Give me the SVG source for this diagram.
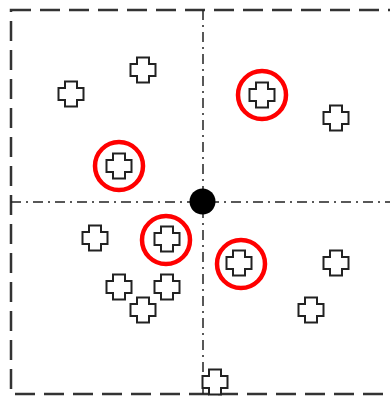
<svg xmlns="http://www.w3.org/2000/svg" xmlns:xlink="http://www.w3.org/1999/xlink" width="390" height="396" viewBox="0 0 390 396">
<style>
.frame{fill:none;stroke:#333;stroke-width:2.5;stroke-dasharray:20,9}
.axis{fill:none;stroke:#222;stroke-width:1.5;stroke-dasharray:10,5,2,5}
.cross{fill:#fff;stroke:#222;stroke-width:2}
.ring{fill:none;stroke:#f00;stroke-width:4.5}
</style>
<defs>
<path id="cr" class="cross" d="M-6,-12.5H6V-6H12.5V6H6V12.5H-6V6H-12.5V-6H-6Z"/>
</defs>
<rect width="390" height="396" fill="#fff"/>
<rect class="frame" x="11" y="10" width="400" height="384"/>
<g id="axes">
<line class="axis" x1="203" y1="10" x2="203" y2="394"/>
<line class="axis" x1="11" y1="202" x2="395" y2="202"/>
</g>
<g id="center"><circle cx="202.5" cy="201.5" r="13" fill="#000"/></g>
<g id="n1"><use xlink:href="#cr" x="71" y="94"/></g>
<g id="n2"><use xlink:href="#cr" x="143" y="70"/></g>
<g id="n3"><use xlink:href="#cr" x="119" y="166"/><circle class="ring" cx="119" cy="166" r="24"/></g>
<g id="n4"><use xlink:href="#cr" x="262" y="95"/><circle class="ring" cx="262" cy="95" r="24"/></g>
<g id="n5"><use xlink:href="#cr" x="336" y="118"/></g>
<g id="n6"><use xlink:href="#cr" x="95" y="238"/></g>
<g id="n7"><use xlink:href="#cr" x="167" y="239"/><circle class="ring" cx="166" cy="240" r="24"/></g>
<g id="n8"><use xlink:href="#cr" x="119" y="287"/></g>
<g id="n9"><use xlink:href="#cr" x="167" y="287"/></g>
<g id="n10"><use xlink:href="#cr" x="143" y="310"/></g>
<g id="n11"><use xlink:href="#cr" x="239" y="263"/><circle class="ring" cx="241" cy="264" r="24"/></g>
<g id="n12"><use xlink:href="#cr" x="336" y="263"/></g>
<g id="n13"><use xlink:href="#cr" x="311" y="310"/></g>
<g id="n14"><use xlink:href="#cr" x="215" y="382"/></g>
</svg>
